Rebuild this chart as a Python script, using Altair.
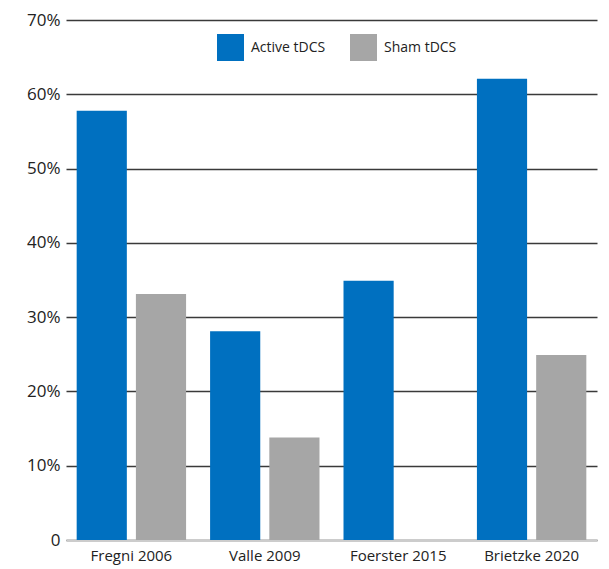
import altair as alt
import pandas as pd

studies = ["Fregni 2006", "Valle 2009", "Foerster 2015", "Brietzke 2020"]
active = [57.8, 28.1, 34.9, 62.1]
sham = [33.1, 13.8, None, 24.9]
groups = ["Active tDCS", "Sham tDCS"]
colors = ["#0070c0", "#a6a6a6"]
y_ticks = [0, 10, 20, 30, 40, 50, 60, 70]

rows = []
for s, a, b in zip(studies, active, sham):
    rows.append({"study": s, "group": groups[0], "value": a})
    if b is not None:
        rows.append({"study": s, "group": groups[1], "value": b})
df = pd.DataFrame(rows)

FONT = "Open Sans"

chart = alt.Chart(df).mark_bar().encode(
    x=alt.X("study:N", sort=studies, title=None,
            scale=alt.Scale(paddingInner=0.18, paddingOuter=0.08),
            axis=alt.Axis(labelAngle=0, labelFontSize=15, labelFont=FONT,
                          labelColor="#222222", ticks=False, domain=True,
                          domainColor="#cccccc", domainWidth=2, labelPadding=8)),
    xOffset=alt.XOffset("group:N", sort=groups,
                        scale=alt.Scale(paddingInner=0.153, paddingOuter=0)),
    y=alt.Y("value:Q", title=None,
            scale=alt.Scale(domain=[0, 70], nice=False),
            axis=alt.Axis(values=y_ticks, labelFontSize=17, labelFont=FONT,
                          labelColor="#222222",
                          labelExpr="datum.value == 0 ? '0' : datum.value + '%'",
                          ticks=False, domain=False, labelPadding=6,
                          grid=True, gridColor="#3a3a3a", gridWidth=1.5,
                          gridOpacity=1)),
    color=alt.Color("group:N", sort=groups,
                    scale=alt.Scale(domain=groups, range=colors),
                    legend=alt.Legend(title=None, orient="none", legendX=151,
                                      legendY=14, direction="horizontal",
                                      symbolType="square", symbolSize=729,
                                      symbolStrokeWidth=0, labelFont=FONT,
                                      labelFontSize=14, labelColor="#222222",
                                      labelOffset=7, columnPadding=24,
                                      padding=0)),
).properties(
    width=531, height=520,
    autosize=alt.AutoSizeParams(type="none"),
    padding={"left": 58, "top": 12, "right": 4, "bottom": 28},
).configure_view(stroke=None)

chart.save("out.html", embed_options={"renderer": "svg", "actions": False})
